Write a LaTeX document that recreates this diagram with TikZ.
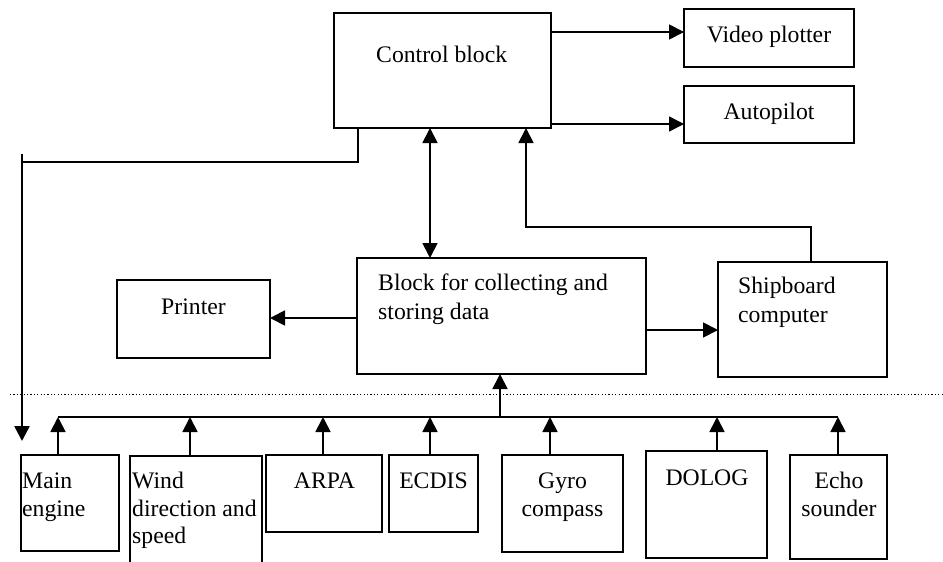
\documentclass[tikz,border=0pt]{standalone}
\usepackage{fontspec}
\setmainfont{Liberation Serif}
\usetikzlibrary{arrows.meta,calc}
\newcommand\bx[5]{\node[box,minimum width={#4pt-#2pt},minimum height={#5pt-#3pt}] (#1) at (#2,#3) {};}
\begin{document}
\begin{tikzpicture}[x=1pt,y=-1pt,
  box/.style={draw,line width=1.8pt,inner sep=0pt,outer sep=0pt,anchor=north west},
  lbl/.style={inner sep=0pt,font=\fontsize{23.7}{27}\selectfont},
  conn/.style={line width=1.8pt},
  tip/.style={-{Triangle[length=15pt,width=15pt]}},
  arr/.style={conn,tip},
  darr/.style={conn,{Triangle[length=15pt,width=15pt]}-{Triangle[length=15pt,width=15pt]}}]
\useasboundingbox (0,0) rectangle (943,562);
% boxes
\bx{ctrl}{334}{13}{551}{128}
\bx{vp}{684}{9}{854}{67}
\bx{ap}{684}{86}{854}{143}
\bx{blk}{357}{258}{646}{374}
\bx{ship}{718}{262}{887}{377}
\bx{prn}{117}{280}{270}{358}
\bx{me}{21}{455}{119}{551}
\bx{wind}{130}{456}{262}{600}
\bx{arpa}{266}{455}{382}{532}
\bx{ecdis}{389}{455}{478}{532}
\bx{gyro}{502}{455}{623}{552}
\bx{dolog}{646}{451}{767}{558}
\bx{echo}{790}{455}{887}{559}
% texts
\node[lbl,anchor=base west] at (376,62) {Control block};
\node[lbl,anchor=base] at (769,42) {Video plotter};
\node[lbl,anchor=base] at (769,119) {Autopilot};
\node[lbl,anchor=base] at (193.5,314) {Printer};
\node[lbl,anchor=base west] at (378,290) {Block for collecting and};
\node[lbl,anchor=base west] at (378,319) {storing data};
\node[lbl,anchor=base west] at (738,293) {Shipboard};
\node[lbl,anchor=base west] at (738,322) {computer};
\node[lbl,anchor=base west] at (22,488) {Main};
\node[lbl,anchor=base west] at (22,516) {engine};
\node[lbl,anchor=base west] at (132,488) {Wind};
\node[lbl,anchor=base west] at (132,516) {direction and};
\node[lbl,anchor=base west] at (132,543) {speed};
\node[lbl,anchor=base] at (324.5,488) {ARPA};
\node[lbl,anchor=base] at (433.5,488) {ECDIS};
\node[lbl,anchor=base] at (562.5,488) {Gyro};
\node[lbl,anchor=base] at (562.5,516) {compass};
\node[lbl,anchor=base] at (707,485) {DOLOG};
\node[lbl,anchor=base] at (839,488) {Echo};
\node[lbl,anchor=base] at (839,516) {sounder};
% connectors top
\draw[arr] (551,32) -- (vp.west |- 0,32);
\draw[arr] (551,124) -- (ap.west |- 0,124);
\draw[darr] (430,0 |- ctrl.south) -- (430,0 |- blk.north);
\draw[arr] (811,0 |- ship.north) -- (811,227) -- (526,227) -- (526,0 |- ctrl.south);
\draw[arr] (blk.west |- 0,318) -- (prn.east |- 0,318);
\draw[arr] (blk.east |- 0,330) -- (ship.west |- 0,330);
% left wire
\coordinate (down) at (22,441);
\draw[conn] (358,0 |- ctrl.south) -- (358,162) -- (22,162);
\draw[line width=2.6pt,tip] (22,154) -- (down);
% dotted separator
\draw[line width=1pt,dash pattern=on 1.2pt off 2.2pt] (10,394) -- (943,394);
% bus
\coordinate (busL) at (58,417);
\coordinate (busR) at (838,417);
\draw[conn] (busL) -- (busR);
\draw[arr] (500,417) -- (500,0 |- blk.south);
\draw[arr] (58,0 |- me.north) -- (busL);
\draw[arr] (190,0 |- wind.north) -- (190,417);
\draw[arr] (323,0 |- arpa.north) -- (323,417);
\draw[arr] (430,0 |- ecdis.north) -- (430,417);
\draw[arr] (550,0 |- gyro.north) -- (550,417);
\draw[arr] (717,0 |- dolog.north) -- (717,417);
\draw[arr] (838,0 |- echo.north) -- (busR);
\end{tikzpicture}
\end{document}
